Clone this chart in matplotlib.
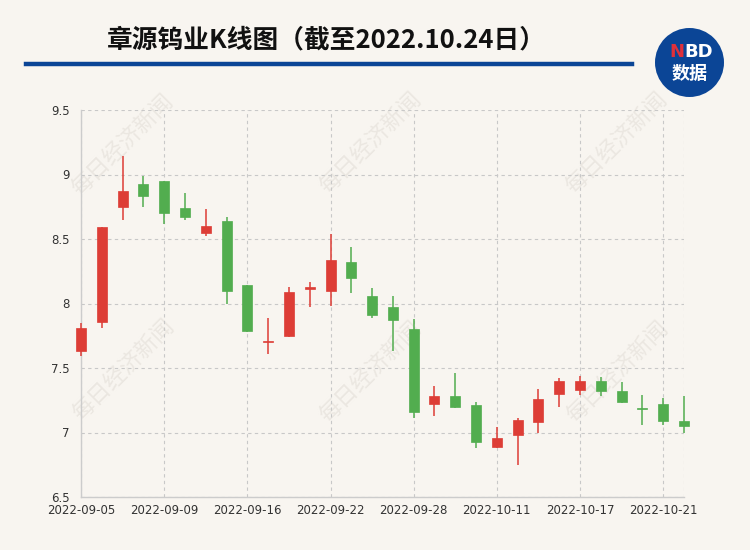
import matplotlib
matplotlib.use("Agg")
import matplotlib.pyplot as plt
from matplotlib.patches import Rectangle, Ellipse

plt.rcParams['font.family'] = ['Noto Sans CJK SC', 'DejaVu Sans']

dates = ["2022-09-05", "2022-09-06", "2022-09-07", "2022-09-08", "2022-09-09",
         "2022-09-13", "2022-09-14", "2022-09-15", "2022-09-16", "2022-09-19",
         "2022-09-20", "2022-09-21", "2022-09-22", "2022-09-23", "2022-09-26",
         "2022-09-27", "2022-09-28", "2022-09-29", "2022-09-30", "2022-10-10",
         "2022-10-11", "2022-10-12", "2022-10-13", "2022-10-14", "2022-10-17",
         "2022-10-18", "2022-10-19", "2022-10-20", "2022-10-21", "2022-10-24"]
opens  = [7.63, 7.86, 8.75, 8.93, 8.95, 8.74, 8.55, 8.64, 8.14, 7.70,
          7.75, 8.11, 8.10, 8.32, 8.06, 7.97, 7.80, 7.22, 7.28, 7.21,
          6.89, 6.98, 7.08, 7.30, 7.33, 7.40, 7.32, 7.19, 7.22, 7.09]
closes = [7.81, 8.59, 8.87, 8.83, 8.70, 8.67, 8.60, 8.10, 7.79, 7.71,
          8.09, 8.13, 8.34, 8.20, 7.91, 7.87, 7.16, 7.28, 7.20, 6.93,
          6.96, 7.10, 7.26, 7.40, 7.40, 7.32, 7.24, 7.18, 7.09, 7.05]
highs  = [7.85, 8.59, 9.14, 8.99, 8.95, 8.86, 8.73, 8.67, 8.14, 7.89,
          8.13, 8.17, 8.54, 8.44, 8.12, 8.06, 7.88, 7.36, 7.46, 7.24,
          7.04, 7.11, 7.34, 7.42, 7.44, 7.43, 7.39, 7.29, 7.27, 7.28]
lows   = [7.59, 7.81, 8.65, 8.75, 8.62, 8.65, 8.52, 8.00, 7.78, 7.61,
          7.74, 7.97, 7.98, 8.08, 7.89, 7.63, 7.11, 7.13, 7.19, 6.88,
          6.88, 6.75, 7.00, 7.20, 7.29, 7.28, 7.23, 7.06, 7.06, 7.00]
y_ticks = [6.5, 7, 7.5, 8, 8.5, 9, 9.5]
y_tick_labels = ["6.5", "7", "7.5", "8", "8.5", "9", "9.5"]
title = "章源钨业K线图（截至2022.10.24日）"
watermark = "每日经济新闻"

UP = "#dd3d36"
DOWN = "#52ad4f"
BG = "#f8f5f0"

fig = plt.figure(figsize=(7.5, 5.5), dpi=100, facecolor=BG)
ax = fig.add_axes([81/750, 1-497/550, (684-81)/750, (497-110)/550])
ax.patch.set_alpha(0)

n = len(dates)
xs = list(range(n))
w = 0.48
for i in xs:
    o, c, h, l = opens[i], closes[i], highs[i], lows[i]
    col = UP if c >= o else DOWN
    ax.plot([i, i], [l, h], color=col, lw=1.1, zorder=3, clip_on=False, solid_capstyle='butt')
    bot = min(o, c)
    hgt = max(abs(c - o), 0.012)
    ax.add_patch(Rectangle((i - w/2, bot), w, hgt, facecolor=col, edgecolor=col,
                           lw=0.5, zorder=4, clip_on=False))

ax.set_xlim(0, n - 1)
ax.set_ylim(6.5, 9.5)
ax.set_yticks(y_ticks)
ax.set_yticklabels(y_tick_labels)
tick_idx = list(range(0, n, 4))
ax.set_xticks(tick_idx)
ax.set_xticklabels([dates[i] for i in tick_idx])

ax.grid(True, color="#c8c8c8", ls=(0, (3, 3)), lw=0.8, zorder=0)
ax.axvline(n - 1, color="#c8c8c8", ls=(0, (3, 3)), lw=0.8, zorder=0)
for s in ["top", "right"]:
    ax.spines[s].set_visible(False)
for s in ["left", "bottom"]:
    ax.spines[s].set_color("#cccccc")
    ax.spines[s].set_linewidth(1)
ax.tick_params(axis='both', length=0, labelsize=8.5, labelcolor="#333333")
ax.tick_params(axis='y', pad=8)
ax.tick_params(axis='x', pad=5)
for lab in ax.get_xticklabels() + ax.get_yticklabels():
    lab.set_family(['DejaVu Sans'])

# watermarks (behind the axes content)
for (px, py) in [(122, 145), (370, 143), (616, 143), (123, 370), (370, 372), (617, 372)]:
    fig.text(px/750, 1-py/550, watermark, rotation=45, fontsize=16, color="#ebe7e1",
             ha='center', va='center', zorder=-1)

# title
fig.text(326/750, 1-40/550, title, fontsize=18.5, fontweight='bold', color="#111111",
         ha='center', va='center')
# blue rule
fig.add_artist(plt.Line2D([26/750, 632/750], [1-64/550, 1-64/550], color="#0b4596", lw=3.2))

# logo
fig.add_artist(Ellipse((689.5/750, 1-62.5/550), 69/750, 69/550, facecolor="#0b4596",
                       edgecolor='none', transform=fig.transFigure))
fig.text(684.5/750, 1-52/550, "N", fontsize=13, fontweight='bold', color="#e0303a",
         ha='right', va='center', family=['DejaVu Sans'])
fig.text(684.5/750, 1-52/550, "BD", fontsize=13, fontweight='bold', color="white",
         ha='left', va='center', family=['DejaVu Sans'])
fig.text(689.5/750, 1-73/550, "数据", fontsize=13, fontweight='bold', color="white",
         ha='center', va='center')

fig.savefig("out.png", dpi=100, facecolor=BG)
